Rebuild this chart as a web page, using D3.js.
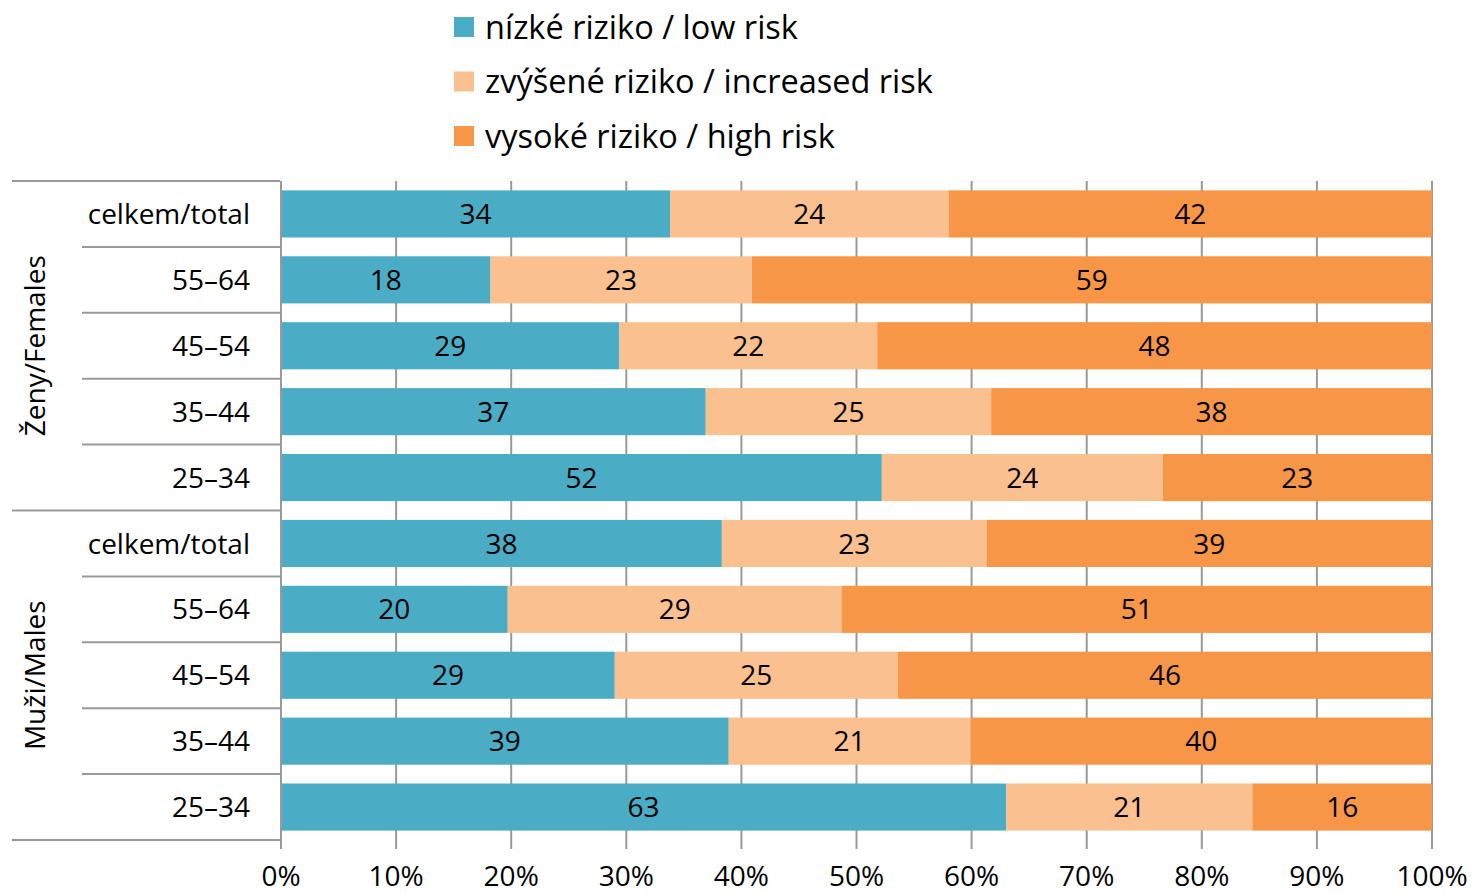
<!DOCTYPE html>
<html><head><meta charset="utf-8">
<script src="https://cdn.jsdelivr.net/npm/d3@7"></script>
<style>body{margin:0;background:#fff}svg{display:block}text{font-family:"Open Sans",Lato,sans-serif;fill:#000}</style>
</head><body>
<svg id="c" width="1473" height="894"></svg>
<script>
const categories = ["celkem/total","55–64","45–54","35–44","25–34","celkem/total","55–64","45–54","35–44","25–34"];
const groups = ["Ženy/Females","Muži/Males"];
const seriesNames = ["nízké riziko / low risk","zvýšené riziko / increased risk","vysoké riziko / high risk"];
const low = [33.8,18.2,29.4,36.9,52.2,38.3,19.7,29.0,38.9,63.0];
const increased = [24.2,22.7,22.4,24.8,24.4,23.0,29.0,24.6,21.0,21.4];
const high = [42.0,59.1,48.2,38.3,23.4,38.7,51.3,46.4,40.1,15.6];
const ticks = [0,10,20,30,40,50,60,70,80,90,100];
const colors = ["#4BACC6","#FAC090","#F79646"];

const svg = d3.select("#c");
const x = d3.scaleLinear().domain([0,100]).range([281,1432]);
const ids = categories.map((c,i)=>i);
const y = d3.scaleBand().domain(ids).range([181,840]).paddingInner(0.285).paddingOuter(0.1425);
const fs = 28;

// gridlines
svg.append("g").selectAll("line").data(ticks).join("line")
  .attr("x1",d=>x(d)).attr("x2",d=>x(d)).attr("y1",181).attr("y2",849)
  .attr("stroke","#999").attr("stroke-width",2);

// category separators
const step = y.step();
const seps = d3.range(11).map(i=>181+i*step);
svg.append("g").selectAll("line").data(seps).join("line")
  .attr("x1",(d,i)=> (i%5===0)?12:82).attr("x2",280)
  .attr("y1",d=>d).attr("y2",d=>d)
  .attr("stroke","#999").attr("stroke-width",2);

// bars
const table = ids.map(i=>({id:i, v:[low[i],increased[i],high[i]]}));
const stack = d3.stack().keys([0,1,2]).value((d,k)=>d.v[k])(table);
const layers = svg.append("g").selectAll("g").data(stack).join("g").attr("fill",(d,i)=>colors[i]);
layers.selectAll("rect").data(d=>d).join("rect")
  .attr("x",d=>x(d[0])).attr("width",d=>x(d[1])-x(d[0]))
  .attr("y",d=>y(d.data.id)).attr("height",y.bandwidth());
layers.selectAll("text").data(d=>d).join("text")
  .attr("x",d=>(x(d[0])+x(d[1]))/2).attr("y",d=>y(d.data.id)+y.bandwidth()/2)
  .attr("dy","0.36em").attr("text-anchor","middle").attr("font-size",fs)
  .text(d=>d3.format(".0f")(d[1]-d[0]));

// category axis line
svg.append("line").attr("x1",281).attr("x2",281).attr("y1",181).attr("y2",849)
  .attr("stroke","#999").attr("stroke-width",2);

// category labels
svg.append("g").selectAll("text").data(ids).join("text")
  .attr("x",250).attr("y",d=>y(d)+y.bandwidth()/2).attr("dy","0.36em")
  .attr("text-anchor","end").attr("font-size",fs).text(d=>categories[d]);

// group labels
svg.append("g").selectAll("text").data(groups).join("text")
  .attr("transform",(d,i)=>`translate(45,${181+step*(2.5+5*i)}) rotate(-90)`)
  .attr("text-anchor","middle").attr("font-size",fs).text(d=>d);

// x tick labels
svg.append("g").selectAll("text").data(ticks).join("text")
  .attr("x",d=>x(d)).attr("y",886).attr("text-anchor","middle").attr("font-size",fs)
  .text(d=>d+"%");

// legend
const lg = svg.append("g").selectAll("g").data(seriesNames).join("g")
  .attr("transform",(d,i)=>`translate(454,${27+i*54.5})`);
lg.append("rect").attr("x",0).attr("y",-10).attr("width",20).attr("height",20).attr("fill",(d,i)=>colors[i]);
lg.append("text").attr("x",31).attr("dy","0.36em").attr("font-size",32.5).text(d=>d);
</script>
</body></html>
